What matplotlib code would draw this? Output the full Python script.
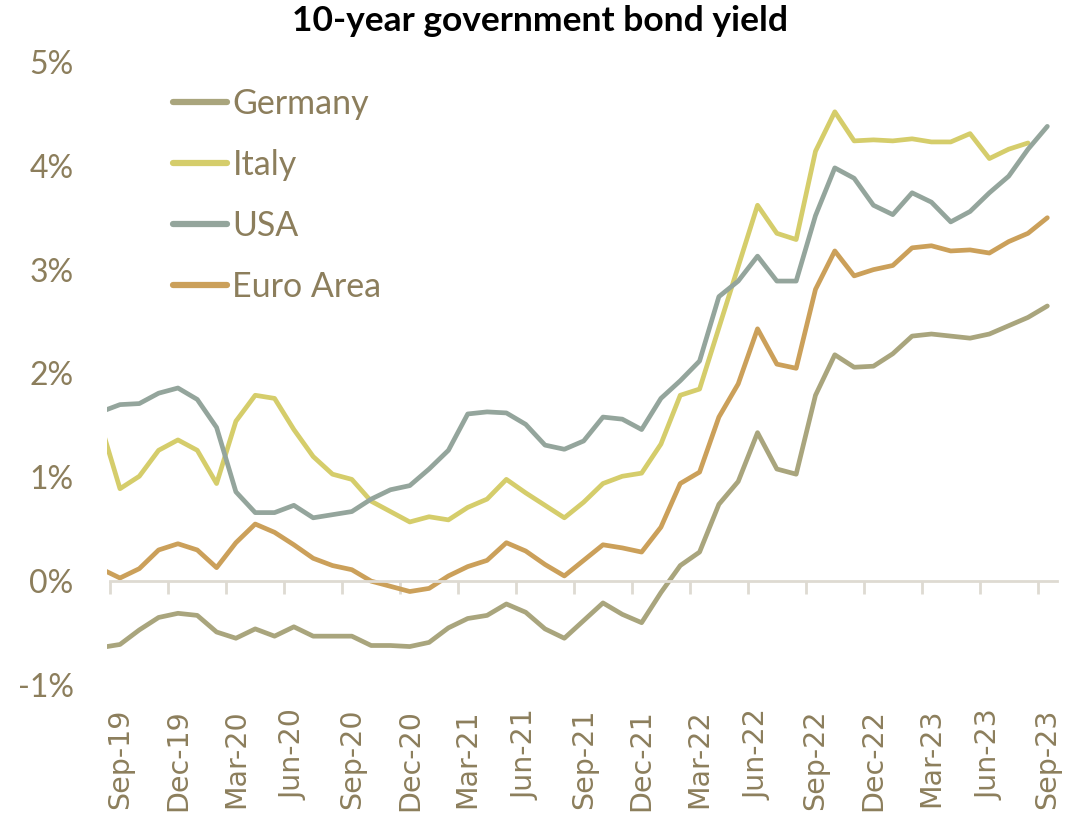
import numpy as np
import matplotlib
matplotlib.use("Agg")
import matplotlib.pyplot as plt

# Monthly 10-year yields (%), Aug-19 .. Sep-23
months = ["Aug-19", "Sep-19", "Oct-19", "Nov-19", "Dec-19", "Jan-20", "Feb-20", "Mar-20",
          "Apr-20", "May-20", "Jun-20", "Jul-20", "Aug-20", "Sep-20", "Oct-20", "Nov-20",
          "Dec-20", "Jan-21", "Feb-21", "Mar-21", "Apr-21", "May-21", "Jun-21", "Jul-21",
          "Aug-21", "Sep-21", "Oct-21", "Nov-21", "Dec-21", "Jan-22", "Feb-22", "Mar-22",
          "Apr-22", "May-22", "Jun-22", "Jul-22", "Aug-22", "Sep-22", "Oct-22", "Nov-22",
          "Dec-22", "Jan-23", "Feb-23", "Mar-23", "Apr-23", "May-23", "Jun-23", "Jul-23",
          "Aug-23", "Sep-23"]

germany = [-0.64, -0.61, -0.47, -0.35, -0.31, -0.33, -0.49, -0.55, -0.46, -0.53,
           -0.44, -0.53, -0.53, -0.53, -0.62, -0.62, -0.63, -0.59, -0.45, -0.36,
           -0.33, -0.22, -0.30, -0.46, -0.55, -0.38, -0.21, -0.32, -0.40, -0.11,
           0.15, 0.28, 0.74, 0.96, 1.43, 1.08, 1.03, 1.79, 2.18, 2.06,
           2.07, 2.19, 2.36, 2.38, 2.36, 2.34, 2.38, 2.46, 2.54, 2.65]

italy = [1.51, 0.89, 1.01, 1.26, 1.36, 1.26, 0.94, 1.54, 1.79, 1.76,
         1.46, 1.20, 1.03, 0.98, 0.77, 0.67, 0.57, 0.62, 0.59, 0.71,
         0.79, 0.98, 0.85, 0.73, 0.61, 0.76, 0.94, 1.01, 1.04, 1.32,
         1.79, 1.85, 2.44, 3.03, 3.62, 3.35, 3.29, 4.14, 4.52, 4.24,
         4.25, 4.24, 4.26, 4.23, 4.23, 4.31, 4.07, 4.16, 4.22, np.nan]

usa = [1.63, 1.70, 1.71, 1.81, 1.86, 1.75, 1.48, 0.86, 0.66, 0.66,
       0.73, 0.61, 0.64, 0.67, 0.79, 0.88, 0.92, 1.08, 1.26, 1.61,
       1.63, 1.62, 1.51, 1.31, 1.27, 1.35, 1.58, 1.56, 1.46, 1.76,
       1.93, 2.12, 2.74, 2.89, 3.13, 2.89, 2.89, 3.52, 3.98, 3.88,
       3.62, 3.53, 3.74, 3.65, 3.46, 3.56, 3.74, 3.90, 4.16, 4.38]

euro_area = [0.12, 0.03, 0.12, 0.30, 0.36, 0.30, 0.13, 0.37, 0.55, 0.47,
             0.35, 0.22, 0.15, 0.11, 0.00, -0.05, -0.10, -0.07, 0.05, 0.14,
             0.20, 0.37, 0.29, 0.16, 0.05, 0.20, 0.35, 0.32, 0.28, 0.52,
             0.94, 1.05, 1.58, 1.90, 2.43, 2.09, 2.05, 2.81, 3.18, 2.94,
             3.00, 3.04, 3.21, 3.23, 3.18, 3.19, 3.16, 3.27, 3.35, 3.50]

series_names = ["Germany", "Italy", "USA", "Euro Area"]
series_colors = ["#A9A57D", "#D5CD6B", "#94A59C", "#CBA05A"]
y_ticks = [-1, 0, 1, 2, 3, 4, 5]
y_tick_labels = ["-1%", "0%", "1%", "2%", "3%", "4%", "5%"]

TEXT = "#8C7E5C"
AXIS = "#DEDAD2"

fig = plt.figure(figsize=(10.79, 8.21), dpi=100)
ax = fig.add_axes([0.0992, 0.1657, 0.8804, 0.7588])

x = np.arange(len(months))
for values, name, color in zip([germany, italy, usa, euro_area], series_names, series_colors):
    ax.plot(x, values, color=color, lw=3.4, label=name,
            solid_capstyle="round", solid_joinstyle="round")

ax.set_xlim(0.33, len(months) - 0.5)
ax.set_ylim(-1, 5)

# y axis: labels only
ax.set_yticks(y_ticks)
ax.set_yticklabels(y_tick_labels, family="Lato", fontsize=23, color=TEXT)
ax.tick_params(axis="y", length=0, pad=24)

# category axis sits on the zero line
for side in ["left", "right", "top"]:
    ax.spines[side].set_visible(False)
ax.spines["bottom"].set_position(("data", 0))
ax.spines["bottom"].set_color(AXIS)
ax.spines["bottom"].set_linewidth(2)
ax.spines["bottom"].set_bounds(0.5, len(months) - 0.5)

label_idx = list(range(1, len(months), 3))
ax.set_xticks(label_idx)
ax.set_xticklabels([months[i] for i in label_idx], rotation=90,
                   family="DejaVu Sans", fontsize=20.5, color=TEXT)
ax.set_xticks(np.arange(0.5, len(months) - 1, 3), minor=True)
ax.tick_params(axis="x", which="major", length=0, pad=92)
ax.tick_params(axis="x", which="minor", length=9, width=2, color=AXIS, direction="out")

leg = ax.legend(loc="upper left", bbox_to_anchor=(0.055, 0.98), frameon=False,
                prop={"family": "Lato", "size": 24.5}, handlelength=1.6,
                handletextpad=0.15, labelspacing=0.85, borderaxespad=0)
for t in leg.get_texts():
    t.set_color(TEXT)
for h in leg.get_lines():
    h.set_linewidth(4.5)
    h.set_solid_capstyle("round")

fig.text(0.5005, 0.975, "10-year government bond yield", ha="center", va="center",
         family="Lato", fontweight="bold", fontsize=25.5, color="black")

fig.savefig("out.png", dpi=100)
